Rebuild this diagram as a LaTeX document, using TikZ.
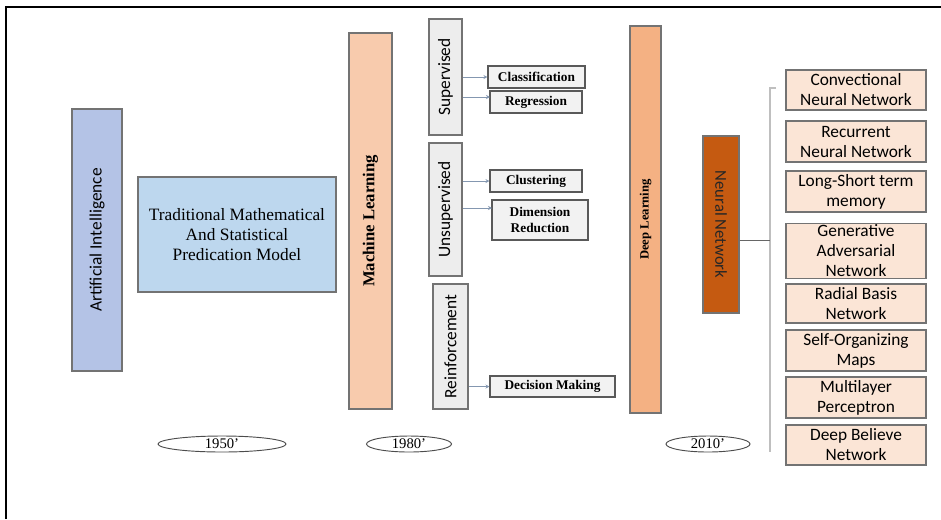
\documentclass[tikz,border=0pt]{standalone}
\usepackage{fontspec}
\setmainfont{Liberation Serif}
\newfontfamily\calib{Carlito}
\usetikzlibrary{arrows.meta,shapes.geometric}
\definecolor{aiblue}{HTML}{B4C3E6}
\definecolor{tradblue}{HTML}{BDD7EE}
\definecolor{mlpeach}{HTML}{F8CBAD}
\definecolor{dlorange}{HTML}{F4B183}
\definecolor{nnbrown}{HTML}{C55A11}
\definecolor{lightpeach}{HTML}{FBE5D6}
\definecolor{greyfill}{HTML}{EDEDED}
\definecolor{leaffill}{HTML}{F2F2F2}
\definecolor{connblue}{HTML}{8497B0}
\tikzset{
  box/.style={draw=black!55, line width=0.8pt, inner sep=1pt, align=center},
  vbox/.style={box, rotate=90},
  catbox/.style={vbox, fill=greyfill, font=\calib\fontsize{13}{15}\selectfont},
  leaf/.style={box, fill=leaffill, draw=black!65, font=\bfseries\fontsize{10}{12}\selectfont},
  nnitem/.style={box, fill=lightpeach, minimum width=105pt, font=\calib\fontsize{13}{15}\selectfont},
  era/.style={ellipse, draw=black!70, line width=0.7pt, inner sep=0pt, minimum height=12pt, font=\fontsize{11}{12}\selectfont},
  conn/.style={draw=connblue, line width=0.7pt, -{Stealth[length=3pt,width=3pt]}},
  brk/.style={draw=black!25, line width=1pt}
}
\begin{document}
\begin{tikzpicture}[x=0.75pt,y=-0.75pt]
\useasboundingbox (0,0) rectangle (941,519);
\draw[line width=2pt] (6,519) -- (6,7) -- (941,7);

% main stages
\node[vbox, fill=aiblue, minimum width=196.5pt, minimum height=37.5pt, font=\calib\fontsize{13}{15}\selectfont] (ai) at (97,240) {Artificial Intelligence};
\node[box, fill=tradblue, minimum width=148.5pt, minimum height=86.25pt, font=\fontsize{13}{15}\selectfont] (trad) at (237,234.5) {Traditional Mathematical\\And Statistical\\Predication Model};
\node[vbox, fill=mlpeach, minimum width=282pt, minimum height=32.25pt, font=\bfseries\fontsize{12.5}{14}\selectfont] (ml) at (370.5,221) {Machine Learning};

% learning categories
\node[catbox, minimum width=87pt, minimum height=24.75pt] (sup) at (445.5,77) {Supervised};
\node[catbox, minimum width=99.75pt, minimum height=24.75pt] (unsup) at (445.5,209.5) {Unsupervised};
\node[catbox, minimum width=93.75pt, minimum height=26.25pt] (reinf) at (450.5,346.5) {Reinforcement};

% leaves
\node[leaf, minimum width=72.75pt, minimum height=16.5pt] (cls) at (536.5,77) {Classification};
\node[leaf, minimum width=69pt, minimum height=16.5pt] (reg) at (536,102) {Regression};
\node[leaf, minimum width=69pt, minimum height=16.5pt] (clu) at (536,181) {Clustering};
\node[leaf, minimum width=72pt, minimum height=30pt] (dim) at (540,220) {Dimension\\Reduction};
\node[leaf, minimum width=93.75pt, minimum height=15.75pt] (dec) at (552.5,386.5) {Decision Making};

\coordinate (regin) at (490,97);
\coordinate (dimin) at (492,208);
\draw[conn] (sup.south |- cls) -- (cls.west);
\draw[conn] (sup.south |- regin) -- (regin);
\draw[conn] (unsup.south |- clu) -- (clu.west);
\draw[conn] (unsup.south |- dimin) -- (dimin);
\draw[conn] (reinf.south |- dec) -- (dec.west);

% deep learning
\node[vbox, fill=dlorange, minimum width=290.25pt, minimum height=23.25pt, font=\bfseries\fontsize{9.5}{11}\selectfont] (dl) at (645.5,219.5) {Deep Learning};
\node[box, rotate=-90, fill=nnbrown, minimum width=132.75pt, minimum height=27pt, text=black!85, font=\calib\fontsize{12.5}{14}\selectfont] (nn) at (721,224.5) {Neural Network};

% neural network types
\node[nnitem, minimum height=30pt] (n1) at (856,90) {Convectional\\Neural Network};
\node[nnitem, minimum height=30.75pt] (n2) at (856,141.5) {Recurrent\\Neural Network};
\node[nnitem, minimum height=30.75pt] (n3) at (856,191.5) {Long-Short term\\memory};
\node[nnitem, minimum height=40.5pt] (n4) at (856,251) {Generative\\Adversarial\\Network};
\node[nnitem, minimum height=29.25pt] (n5) at (856,303.5) {Radial Basis\\Network};
\node[nnitem, minimum height=30.75pt] (n6) at (856,350.5) {Self-Organizing\\Maps};
\node[nnitem, minimum height=30.75pt] (n7) at (856,397.5) {Multilayer\\Perceptron};
\node[nnitem, minimum height=30pt] (n8) at (856,445) {Deep Believe\\Network};

% bracket
\coordinate (bt) at (776,88);
\coordinate (bb) at (770,452);
\coordinate (bm) at (770,240);
\draw[brk] (bt) -| (bb);
\draw[draw=black!60, line width=0.7pt] (nn.north |- bm) -- (bm);

% eras
\node[era, minimum width=96pt] (e1) at (222,444) {1950’};
\node[era, minimum width=63.75pt] (e2) at (409,444) {1980’};
\node[era, minimum width=63pt] (e3) at (708,444) {2010’};
\end{tikzpicture}
\end{document}
